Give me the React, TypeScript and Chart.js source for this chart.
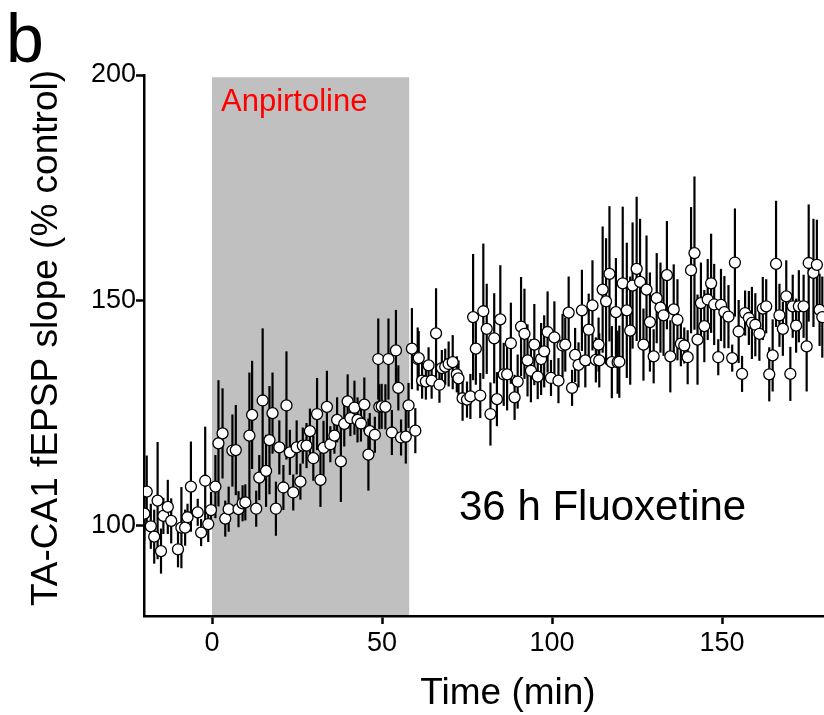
import React, { useEffect, useRef } from "react";
import { Chart, registerables } from "chart.js";
Chart.register(...registerables);

const FONT = "'Liberation Sans', Arial, Helvetica, sans-serif";

// time (min)
const timeMin = [
  -19.9, -19.2, -18, -17, -16, -15, -14.3, -13, -12, -10, -9, -7.9, -7.2, -6.2, -4.2, -3.2, -2, -1.1, -0.3,
  1, 1.9, 3.1, 3.9, 4.9, 6, 7, 7.8, 9, 9.8, 11, 11.8, 13, 13.9, 14.9, 15.9, 16.9, 17.8, 18.8, 19.8, 21, 21.9,
  22.9, 23.9, 24.9, 26, 26.7, 27.8, 28.8, 29.8, 30.9, 31.9, 32.8, 33.8, 34.8, 36, 36.8, 37.9, 38.9, 39.9, 40.7,
  41.9, 42.8, 43.8, 44.8, 46, 46.4, 47.9, 48.9, 49.2, 49.9, 51, 51.9, 52.9, 54.1, 54.8, 55.6, 57, 57.8, 58.8,
  59.8, 60.5,
  60.8, 61.8, 62.9, 63.7, 64.6, 65.9, 66.9, 67.6, 68.6, 69.6, 70.8, 72, 72.5, 73.7, 75, 76, 76.8, 77.6, 78.9,
  79.8, 80.8, 81.9, 83, 83.8, 84.8, 85.8, 86.8, 87.9, 89, 89.9, 90.9, 91.9, 92.8, 93.8, 94.8, 95.8, 96.8, 97.7,
  98.7, 99.7, 100.7, 101.9, 103.1, 103.9, 104.9, 105.9, 106.8, 107.8, 108.8, 109.8, 110.8, 111.9, 112.9, 113.7,
  113.9, 114.9, 115.9, 116.9, 117.6, 118.8, 119.3, 119.8,
  120.8, 122, 123, 123.7, 124.9, 125.9, 126.9, 127.8, 128.8, 129.9, 130.8, 131.9, 132.8, 133.8, 134.8, 135.8,
  136.9, 137.9, 138.9, 139.9, 140.9, 141.9, 142.8, 143.8, 144.8, 145.8, 146.8, 147.7, 148.9, 149.7, 150.7,
  151.9, 153, 153.8, 154.9, 155.9, 156.8, 157.9, 158.8, 159.8, 161, 162, 163, 163.9, 164.9, 165.9, 166.9,
  167.9, 168.9, 170.1, 170.8, 171.8, 172.6, 174, 174.9, 175.5, 176.9, 177.9, 178.7, 179.5,
];

// fEPSP slope (% control)
const slopePct = [
  102.7, 107.6, 99.9, 97.6, 105.6, 94.4, 102.2, 104.2, 101.1, 94.8, 99.6, 99.6, 101.9, 108.7, 103, 98.5, 110, 100.4, 103.5,
  108.7, 118.3, 120.5, 101.6, 103.7, 116.7, 116.8, 103.7, 105, 105.2, 120, 124.6, 103.8, 110.7, 127.8, 112.2, 119, 125, 103.8, 117.4, 108.5, 126.7,
  116.3, 107.4, 117.4, 109.8, 117.8, 117.8, 121, 115, 124.8, 110.2, 117.3, 126.4, 118.1, 120, 123.5, 114.3, 122.6, 127.6, 123.9,
  126.2, 123.5, 122.7, 126.9, 115.8, 121, 120.2, 137, 126.4, 126.5, 126.4, 137, 120.7, 138.9, 130.6, 119.6, 119.8, 126.7, 139.3,
  121.1, 137,
  137.2, 132.2, 132, 135.6, 132.2, 142.7, 131.3, 135, 135.3, 135.9, 136.3, 133.6, 132.7, 128.3, 128, 128.7, 146.3, 139.3, 128.9,
  147.6, 143.7, 124.8, 141.6, 128.1, 145.8, 133.6, 133.6, 140.5, 128.5, 132, 144.2, 142.6, 136.7, 134.4, 140.2, 133.1, 137, 138.7,
  143, 132.8, 141.8, 132.2, 140, 140.2, 147.3, 130.6, 137.9, 135.7, 147.8, 136.7, 143.5, 148.9, 136.8, 140.2,
  136.7, 152.4, 149.8, 155.9, 136.3, 147.4, 136.3, 136.4,
  153.8, 147.8, 143.3, 153.3, 157, 154.1, 140.2, 152.4, 145.2, 137.6, 150.5, 148.4, 146.7, 155.6, 137.6, 148,
  145.7, 140.4, 140, 137.4, 156.7, 160.5, 141.3, 149.4, 144.3, 150.2, 153.8, 149.1, 137.4, 149, 147.4,
  146.4, 137.2, 158.4, 143.1, 133.7, 147.2, 146.1, 145, 144.6, 142.6, 148.2, 148.7, 133.6, 137.8, 158.1, 146.7,
  143.7, 150.9, 133.7, 148.7, 144.4, 148.7, 148.7, 139.8, 158.3, 156.1, 157.9, 147.9, 146.3,
];

// SEM (% control)
const semPct = [
  6, 8, 5, 6, 13, 5, 4, 6, 5, 4, 9, 4, 3, 10, 3, 3, 12, 4, 4,
  7, 14, 10, 4, 5, 8, 10, 4, 4, 4, 14, 12, 4, 5, 16, 8, 12, 9, 6, 6, 5, 12,
  5, 4, 6, 4, 4, 5, 5, 5, 8, 6, 6, 8, 4, 4, 5, 9, 5, 6, 4,
  6, 5, 4, 6, 8, 4, 4, 9, 5, 5, 5, 9, 5, 9, 5, 4, 6, 5, 9,
  5, 7,
  6, 4, 4, 4, 4, 10, 4, 4, 4, 5, 6, 4, 4, 5, 4, 5, 14, 8, 5,
  15, 10, 7, 10, 6, 12, 7, 8, 9, 5, 6, 11, 10, 8, 7, 9, 5, 8, 8,
  9, 4, 8, 5, 7, 6, 8, 4, 6, 5, 9, 6, 8, 10, 5, 6,
  6, 14, 14, 15, 8, 12, 7, 8,
  17, 15, 12, 14, 16, 14, 8, 12, 11, 6, 10, 10, 9, 12, 8, 10,
  9, 5, 4, 6, 14, 17, 10, 9, 8, 9, 11, 9, 4, 8, 8,
  7, 3, 12, 7, 4, 5, 6, 8, 7, 6, 7, 6, 6, 8, 14, 7,
  6, 8, 6, 7, 6, 8, 7, 10, 13, 12, 10, 8, 9,
];

const xTicks = [0, 50, 100, 150];
const yTicks = [100, 150, 200];
const drugWindow = [0, 58];

const bgPlugin = {
  id: "bgRect",
  beforeDraw(chart: any) {
    const { ctx, scales } = chart;
    const x = scales.x, y = scales.y;
    const x0 = x.getPixelForValue(drugWindow[0]);
    const x1 = x.getPixelForValue(drugWindow[1]);
    const yTop = y.getPixelForValue(199.5);
    const yBot = y.getPixelForValue(80);
    ctx.save();
    ctx.fillStyle = "#c0c0c0";
    ctx.fillRect(x0, yTop, x1 - x0, yBot - yTop + 1);
    ctx.restore();
  },
  beforeDatasetsDraw(chart: any) {
    const { ctx, scales, chartArea } = chart;
    const x = scales.x, y = scales.y;
    ctx.save();
    ctx.beginPath();
    ctx.rect(chartArea.left, chartArea.top, chartArea.right - chartArea.left, chartArea.bottom - chartArea.top);
    ctx.clip();
    ctx.strokeStyle = "#000";
    ctx.lineWidth = 2.2;
    for (let i = 0; i < timeMin.length; i++) {
      const px = x.getPixelForValue(timeMin[i]);
      ctx.beginPath();
      ctx.moveTo(px, y.getPixelForValue(slopePct[i] - semPct[i]));
      ctx.lineTo(px, y.getPixelForValue(slopePct[i] + semPct[i]));
      ctx.stroke();
    }
    ctx.restore();
  },
  afterDraw(chart: any) {
    const { ctx } = chart;
    ctx.save();
    ctx.fillStyle = "#000";
    ctx.textAlign = "left";
    ctx.textBaseline = "alphabetic";
    ctx.font = `68px ${FONT}`;
    ctx.fillText("b", 6, 62);

    ctx.font = `42px ${FONT}`;
    ctx.fillText("36 h Fluoxetine", 459, 520);

    ctx.fillStyle = "#ff0000";
    ctx.font = `31px ${FONT}`;
    ctx.fillText("Anpirtoline", 221, 111);

    ctx.fillStyle = "#000";
    ctx.textAlign = "center";
    ctx.font = `37px ${FONT}`;
    ctx.fillText("Time (min)", 508, 704);

    ctx.translate(57, 338);
    ctx.rotate(-Math.PI / 2);
    ctx.fillText("TA-CA1 fEPSP slope (% control)", 0, 0);
    ctx.restore();
  },
};

export default function App() {
  const ref = useRef<HTMLCanvasElement | null>(null);
  useEffect(() => {
    if (!ref.current) return;
    const data = timeMin.map((t, i) => ({ x: t, y: slopePct[i] }));
    const chart = new Chart(ref.current, {
      type: "scatter",
      data: {
        datasets: [
          {
            data,
            pointRadius: 5.5,
            pointHoverRadius: 5.5,
            pointBackgroundColor: "#ffffff",
            pointBorderColor: "#000000",
            pointBorderWidth: 1.3,
            showLine: false,
          },
        ],
      },
      options: {
        animation: false,
        responsive: false,
        devicePixelRatio: 1,
        events: [],
        layout: { autoPadding: false, padding: { left: 0, right: 0, top: 75, bottom: 0 } },
        plugins: { legend: { display: false }, tooltip: { enabled: false }, title: { display: false } },
        scales: {
          x: {
            type: "linear",
            min: -20,
            max: 180,
            afterBuildTicks: (s: any) => {
              s.ticks = xTicks.map((v) => ({ value: v }));
            },
            afterFit: (s: any) => {
              s.height = 99;
              s.paddingLeft = 0;
              s.paddingRight = 0;
            },
            grid: { display: true, drawOnChartArea: false, drawTicks: true, tickLength: 8, tickWidth: 2.5, tickColor: "#000" },
            border: { display: true, color: "#000", width: 2.5 },
            ticks: { color: "#000", font: { family: FONT, size: 27 }, padding: 3, maxRotation: 0, autoSkip: false },
          },
          y: {
            type: "linear",
            min: 80,
            max: 200,
            afterBuildTicks: (s: any) => {
              s.ticks = yTicks.map((v) => ({ value: v }));
            },
            afterFit: (s: any) => {
              s.width = 144;
              s.paddingTop = 0;
              s.paddingBottom = 0;
            },
            grid: { display: true, drawOnChartArea: false, drawTicks: true, tickLength: 8, tickWidth: 2.5, tickColor: "#000" },
            border: { display: true, color: "#000", width: 2.5 },
            ticks: { color: "#000", font: { family: FONT, size: 27 }, padding: 0, autoSkip: false },
          },
        },
      },
      plugins: [bgPlugin],
    });
    return () => chart.destroy();
  }, []);
  return (
    <div style={{ position: "absolute", left: 0, top: 0, width: 824, height: 715 }}>
      <canvas ref={ref} width={824} height={715} />
    </div>
  );
}
